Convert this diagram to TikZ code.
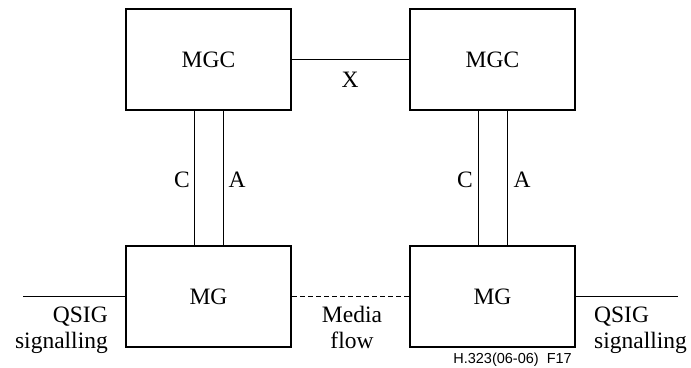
\documentclass[tikz,border=0pt]{standalone}
\usepackage{fontspec}
\setmainfont{Liberation Serif}
\newfontfamily\labelsans{Liberation Sans}
\begin{document}
\begin{tikzpicture}[x=1pt,y=-1pt,
  box/.style={draw,line width=2pt,minimum width=165pt,minimum height=101pt,inner sep=0pt,font=\fontsize{23.5}{26}\selectfont},
  link/.style={line width=1pt},
  lbl/.style={inner sep=0pt,font=\fontsize{23.5}{26}\selectfont},
  two/.style={lbl,anchor=base},
  fig/.style={inner sep=0pt,font=\labelsans\fontsize{14.5}{16}\selectfont}
]
\useasboundingbox (0,0) rectangle (691,367);
\node[box] (mgc1) at (208.5,59.5) {MGC};
\node[box] (mgc2) at (492.5,59.5) {MGC};
\node[box] (mg1) at (208.5,296.5) {MG};
\node[box] (mg2) at (492.5,296.5) {MG};
\coordinate (qL) at (23,296.5);
\coordinate (qR) at (678,296.5);
\draw[link] (mgc1.east) -- (mgc2.west);
\draw[link] ([xshift=-14.5pt]mgc1.south) -- ([xshift=-14.5pt]mg1.north);
\draw[link] ([xshift=14.5pt]mgc1.south) -- ([xshift=14.5pt]mg1.north);
\draw[link] ([xshift=-14.5pt]mgc2.south) -- ([xshift=-14.5pt]mg2.north);
\draw[link] ([xshift=14.5pt]mgc2.south) -- ([xshift=14.5pt]mg2.north);
\draw[link,dash pattern=on 5pt off 3pt] (mg1.east) -- (mg2.west);
\draw[link] (qL) -- (mg1.west);
\draw[link] (mg2.east) -- (qR);
\node[lbl] (x) at (350,80) {X};
\node[lbl] (c1) at (182,180) {C};
\node[lbl] (a1) at (237,180) {A};
\node[lbl] (c2) at (465,180) {C};
\node[lbl] (a2) at (522,180) {A};
\node[two,anchor=base east,align=right] (qs1) at (108,348) {QSIG\\signalling};
\node[two,align=center] (mf) at (352,348) {Media\\flow};
\node[two,anchor=base west,align=left] (qs2) at (594,348) {QSIG\\signalling};
\node[fig,anchor=base east] (f17) at (572,363) {H.323(06-06)\ \ F17};
\end{tikzpicture}
\end{document}
